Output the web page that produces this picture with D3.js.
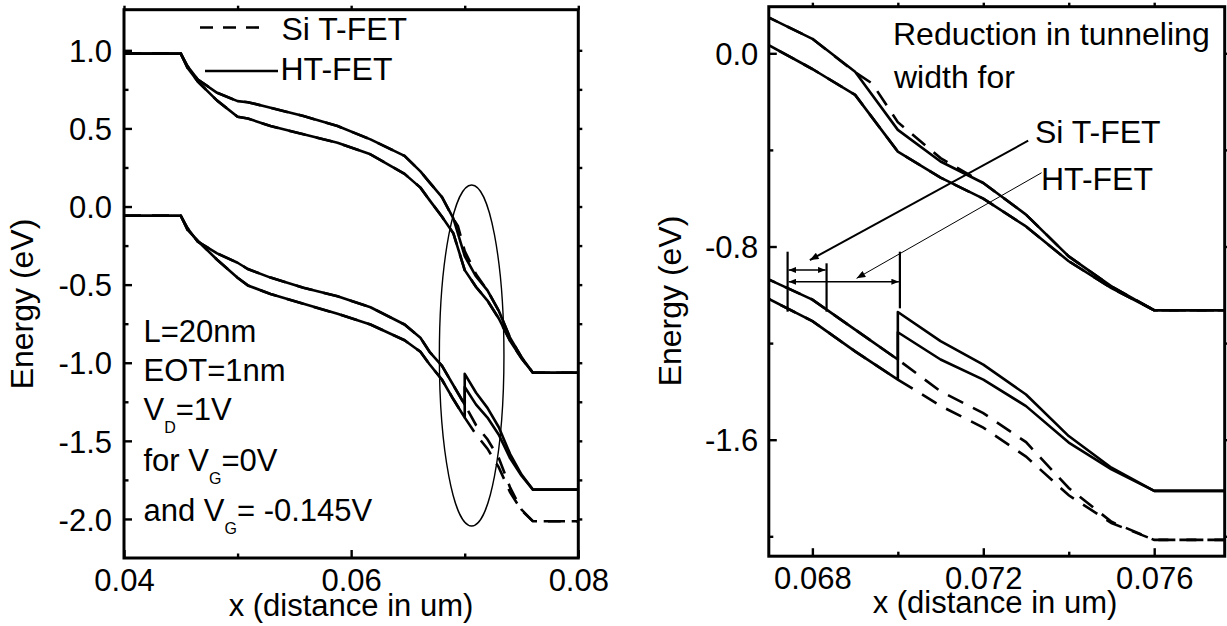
<!DOCTYPE html>
<html><head><meta charset="utf-8">
<script src="https://cdn.jsdelivr.net/npm/d3@7"></script>
<style>
html,body{margin:0;padding:0;background:#fff;}
svg{display:block;}
text{font-family:Arial,"Liberation Sans",Helvetica,sans-serif;fill:#000;}
</style></head><body>
<svg id="chart" width="1227" height="626"></svg>
<script>
// ---------------- data (x in um, energy in eV) ----------------
const xGrid = [0.040,0.045,0.0456,0.0465,0.0482,0.0500,0.0509,0.0529,0.0558,0.0588,0.0617,0.0647,0.0661,0.0669,0.0680,0.0690,0.0700,0.0710,0.0720,0.0730,0.0740,0.0750,0.0760,0.0800];
const xGridJump = [0.040,0.045,0.0456,0.0465,0.0482,0.0500,0.0509,0.0529,0.0558,0.0588,0.0617,0.0647,0.0661,0.0669,0.0680,0.0690,0.0700,0.0700,0.0710,0.0720,0.0730,0.0740,0.0750,0.0760,0.0800];
const xGridSiC = [0.040,0.045,0.0456,0.0465,0.0482,0.0500,0.0509,0.0529,0.0558,0.0588,0.0617,0.0647,0.0661,0.0669,0.0680,0.0690,0.0694,0.0700,0.0710,0.0720,0.0730,0.0740,0.0750,0.0760,0.0800];

// HT-FET (solid)
const ecHT_VGm = [0.979,0.979,0.898,0.813,0.728,0.675,0.668,0.632,0.579,0.515,0.430,0.324,0.225,0.155,0.060,-0.076,-0.317,-0.448,-0.537,-0.668,-0.841,-0.965,-1.064,-1.064];
const ecHT_VG0 = [0.979,0.979,0.887,0.800,0.678,0.575,0.564,0.515,0.462,0.408,0.334,0.209,0.121,0.041,-0.065,-0.172,-0.407,-0.515,-0.602,-0.717,-0.861,-0.972,-1.064,-1.064];
const evHT_VGm = [-0.059,-0.059,-0.140,-0.225,-0.300,-0.360,-0.400,-0.455,-0.520,-0.575,-0.645,-0.755,-0.840,-0.930,-1.020,-1.144,-1.268,-1.071,-1.192,-1.289,-1.413,-1.585,-1.716,-1.812,-1.812];
const evHT_VG0 = [-0.059,-0.059,-0.150,-0.220,-0.341,-0.456,-0.505,-0.560,-0.623,-0.687,-0.755,-0.856,-0.930,-1.010,-1.109,-1.234,-1.351,-1.155,-1.268,-1.351,-1.461,-1.612,-1.723,-1.812,-1.812];

// Si T-FET (dashed)
const ecSi_VGm = [0.979,0.979,0.898,0.813,0.728,0.675,0.668,0.632,0.579,0.515,0.430,0.324,0.225,0.155,0.060,-0.078,-0.125,-0.285,-0.434,-0.537,-0.668,-0.841,-0.965,-1.064,-1.064];
const ecSi_VG0 = [0.979,0.979,0.887,0.800,0.678,0.575,0.564,0.515,0.462,0.408,0.334,0.209,0.121,0.041,-0.065,-0.172,-0.407,-0.515,-0.602,-0.717,-0.861,-0.972,-1.064,-1.064];
const evSi_VGm = [-0.059,-0.059,-0.140,-0.225,-0.300,-0.360,-0.400,-0.455,-0.520,-0.575,-0.645,-0.755,-0.840,-0.930,-1.020,-1.144,-1.268,-1.400,-1.490,-1.610,-1.800,-1.940,-2.015,-2.015];
const evSi_VG0 = [-0.059,-0.059,-0.150,-0.220,-0.341,-0.456,-0.505,-0.560,-0.623,-0.687,-0.755,-0.856,-0.930,-1.010,-1.109,-1.234,-1.351,-1.460,-1.550,-1.670,-1.830,-1.945,-2.015,-2.015];

// ticks
const xTicksL = [0.04,0.06,0.08], xTickLabelsL = ["0.04","0.06","0.08"], xMinorL = [0.05,0.07];
const yTicksL = [-2,-1.5,-1,-0.5,0,0.5,1], yTickLabelsL = ["-2.0","-1.5","-1.0","-0.5","0.0","0.5","1.0"];
const yMinorL = [-1.75,-1.25,-0.75,-0.25,0.25,0.75];
const xTicksR = [0.068,0.072,0.076], xTickLabelsR = ["0.068","0.072","0.076"], xMinorR = [0.070,0.074];
const yTicksR = [-1.6,-0.8,0], yTickLabelsR = ["-1.6","-0.8","0.0"], yMinorR = [-2.0,-1.2,-0.4];

// text
const legendLabels = ["Si T-FET","HT-FET"];
const xTitle = "x (distance in um)", yTitle = "Energy (eV)";

// ---------------- drawing ----------------
const FS = 31, FS2 = 32;
const svg = d3.select("#chart");
const defs = svg.append("defs");
defs.append("marker").attr("id","ah").attr("markerUnits","userSpaceOnUse")
  .attr("viewBox","0 0 10 8").attr("refX",10).attr("refY",4)
  .attr("markerWidth",10).attr("markerHeight",7).attr("orient","auto-start-reverse")
  .append("path").attr("d","M0,0 L10,4 L0,8 z").attr("fill","#000");
defs.append("marker").attr("id","ahs").attr("markerUnits","userSpaceOnUse")
  .attr("viewBox","0 0 10 8").attr("refX",10).attr("refY",4)
  .attr("markerWidth",8).attr("markerHeight",6).attr("orient","auto-start-reverse")
  .append("path").attr("d","M0,0 L10,4 L0,8 z").attr("fill","#000");

const panels = [
  {id:"L", x:d3.scaleLinear([0.04,0.08],[124,578.3]), y:d3.scaleLinear([-2.25,1.26],[558,9.7]),
   xT:xTicksL, xTL:xTickLabelsL, xM:xMinorL, yT:yTicksL, yTL:yTickLabelsL, yM:yMinorL,
   xt:{x:351,y:616}, yt:{x:33,y:304}, ypad:12},
  {id:"R", x:d3.scaleLinear([0.06698,0.07765],[768.8,1224.7]), y:d3.scaleLinear([-2.0824,0.193],[556.2,6.7]),
   xT:xTicksR, xTL:xTickLabelsR, xM:xMinorR, yT:yTicksR, yTL:yTickLabelsR, yM:yMinorR,
   xt:{x:995,y:613}, yt:{x:681,y:301}, ypad:10.5}
];

const solidSeries = [[xGrid,ecHT_VGm],[xGrid,ecHT_VG0],[xGridJump,evHT_VGm],[xGridJump,evHT_VG0]];
const dashedSeries = [[xGridSiC,ecSi_VGm],[xGrid,ecSi_VG0],[xGrid,evSi_VGm],[xGrid,evSi_VG0]];

panels.forEach(p => {
  const [x0,x1] = p.x.range(), [y0,y1] = p.y.range();
  const g = svg.append("g");
  defs.append("clipPath").attr("id","clip"+p.id).append("rect")
    .attr("x",x0).attr("y",y1).attr("width",x1-x0).attr("height",y0-y1);
  const line = d3.line().x(d=>p.x(d[0])).y(d=>p.y(d[1]));
  const dg = g.append("g").attr("clip-path",`url(#clip${p.id})`);
  solidSeries.forEach(([xs,es]) => dg.append("path").attr("d",line(d3.zip(xs,es)))
    .attr("fill","none").attr("stroke","#000").attr("stroke-width",2.6).attr("stroke-linejoin","round"));
  dashedSeries.forEach(([xs,es]) => dg.append("path").attr("d",line(d3.zip(xs,es)))
    .attr("fill","none").attr("stroke","#000").attr("stroke-width",2.6).attr("stroke-dasharray","17,11"));

  const styleAxis = a => { a.select(".domain").remove();
    a.selectAll(".tick line").attr("stroke","#000").attr("stroke-width",2.4);
    a.selectAll("text").attr("font-size",FS).attr("font-family",'Arial,"Liberation Sans",sans-serif').attr("fill","#000"); };
  // bottom
  g.append("g").attr("transform",`translate(0,${y0})`)
    .call(d3.axisBottom(p.x).tickValues(p.xT).tickSizeInner(-8).tickSizeOuter(0).tickPadding(11).tickFormat((d,i)=>p.xTL[i])).call(styleAxis);
  g.append("g").attr("transform",`translate(0,${y0})`)
    .call(d3.axisBottom(p.x).tickValues(p.xM).tickSizeInner(-4.5).tickSizeOuter(0).tickFormat("")).call(styleAxis);
  // left
  g.append("g").attr("transform",`translate(${x0},0)`)
    .call(d3.axisLeft(p.y).tickValues(p.yT).tickSizeInner(-8).tickSizeOuter(0).tickPadding(p.ypad).tickFormat((d,i)=>p.yTL[i])).call(styleAxis)
    .selectAll("text").attr("dy","0.36em");
  g.append("g").attr("transform",`translate(${x0},0)`)
    .call(d3.axisLeft(p.y).tickValues(p.yM).tickSizeInner(-4.5).tickSizeOuter(0).tickFormat("")).call(styleAxis);
  // top & right (outward short)
  g.append("g").attr("transform",`translate(0,${y1})`)
    .call(d3.axisTop(p.x).tickValues(p.xT.concat(p.xM)).tickSizeInner(4).tickSizeOuter(0).tickFormat("")).call(styleAxis);
  g.append("g").attr("transform",`translate(${x1},0)`)
    .call(d3.axisRight(p.y).tickValues(p.yT.concat(p.yM)).tickSizeInner(4).tickSizeOuter(0).tickFormat("")).call(styleAxis);
  // frame
  g.append("rect").attr("x",x0).attr("y",y1).attr("width",x1-x0).attr("height",y0-y1)
    .attr("fill","none").attr("stroke","#000").attr("stroke-width",3);
  // titles
  g.append("text").attr("x",p.xt.x).attr("y",p.xt.y).attr("text-anchor","middle").attr("font-size",FS).text(xTitle);
  g.append("text").attr("transform",`translate(${p.yt.x},${p.yt.y}) rotate(-90)`).attr("text-anchor","middle").attr("font-size",FS2).text(yTitle);
  p.g = g;
});

// ---- left panel annotations ----
const PL = panels[0], PR = panels[1];
const gl = PL.g;
gl.append("line").attr("x1",200).attr("x2",267).attr("y1",27.5).attr("y2",27.5)
  .attr("stroke","#000").attr("stroke-width",2.6).attr("stroke-dasharray","13,10");
gl.append("line").attr("x1",205).attr("x2",278).attr("y1",71).attr("y2",71)
  .attr("stroke","#000").attr("stroke-width",2.6);
gl.append("text").attr("x",281.5).attr("y",39.5).attr("font-size",FS2).text(legendLabels[0]);
gl.append("text").attr("x",280.5).attr("y",80).attr("font-size",FS2).text(legendLabels[1]);

const ell = {cx:0.07061, cy:-0.954, rx:0.002844, ry:1.0915};
gl.append("ellipse").attr("cx",PL.x(ell.cx)).attr("cy",PL.y(ell.cy))
  .attr("rx",PL.x(ell.cx+ell.rx)-PL.x(ell.cx)).attr("ry",PL.y(ell.cy-ell.ry)-PL.y(ell.cy))
  .attr("fill","none").attr("stroke","#000").attr("stroke-width",1.4);

function subText(g,x,y,parts){
  const t = g.append("text").attr("x",x).attr("y",y).attr("font-size",FS);
  let prevSub = false;
  parts.forEach(([s,sub])=>{
    const ts = t.append("tspan").text(s);
    if(sub){ ts.attr("font-size",16).attr("dy",13); prevSub = true; }
    else if(prevSub){ ts.attr("dy",-13); prevSub = false; }
  });
  return t;
}
const AX = 143.5;
subText(gl,AX,341.7,[["L=20nm"]]);
subText(gl,AX,380.5,[["EOT=1nm"]]);
subText(gl,AX,420,[["V"],["D",1],["=1V"]]);
subText(gl,AX,470.5,[["for V"],["G",1],["=0V"]]);
subText(gl,AX,520.5,[["and V"],["G",1],["= -0.145V"]]);

// ---- right panel annotations ----
const gr = PR.g;
gr.append("text").attr("x",893).attr("y",45).attr("font-size",FS2).text("Reduction in tunneling");
gr.append("text").attr("x",894).attr("y",88).attr("font-size",FS2).text("width for");
gr.append("text").attr("x",1035).attr("y",143).attr("font-size",FS2).text(legendLabels[0]);
gr.append("text").attr("x",1041).attr("y",190).attr("font-size",FS2).text(legendLabels[1]);

const leaderSi = [[0.073051,-0.362],[0.067941,-0.856]];
const leaderHT = [[0.073364,-0.4946],[0.069035,-0.9319]];
gr.append("line").attr("x1",PR.x(leaderSi[0][0])).attr("y1",PR.y(leaderSi[0][1]))
  .attr("x2",PR.x(leaderSi[1][0])).attr("y2",PR.y(leaderSi[1][1]))
  .attr("stroke","#000").attr("stroke-width",2).attr("marker-end","url(#ah)");
gr.append("line").attr("x1",PR.x(leaderHT[0][0])).attr("y1",PR.y(leaderHT[0][1]))
  .attr("x2",PR.x(leaderHT[1][0])).attr("y2",PR.y(leaderHT[1][1]))
  .attr("stroke","#000").attr("stroke-width",1).attr("marker-end","url(#ah)");

const markers = [[0.06742,-0.8215,-1.070],[0.068332,-0.8696,-1.070],[0.070048,-0.8215,-1.056]];
markers.forEach(([mx,e1,e2]) => gr.append("line").attr("x1",PR.x(mx)).attr("x2",PR.x(mx))
  .attr("y1",PR.y(e1)).attr("y2",PR.y(e2)).attr("stroke","#000").attr("stroke-width",2.2));
const widthArrows = [[0.06742,0.068332,-0.897],[0.06742,0.070048,-0.946]];
widthArrows.forEach(([a,b,e]) => gr.append("line").attr("x1",PR.x(a)+1).attr("x2",PR.x(b)-1)
  .attr("y1",PR.y(e)).attr("y2",PR.y(e)).attr("stroke","#000").attr("stroke-width",1.6)
  .attr("marker-start","url(#ahs)").attr("marker-end","url(#ahs)"));
</script>
</body></html>
